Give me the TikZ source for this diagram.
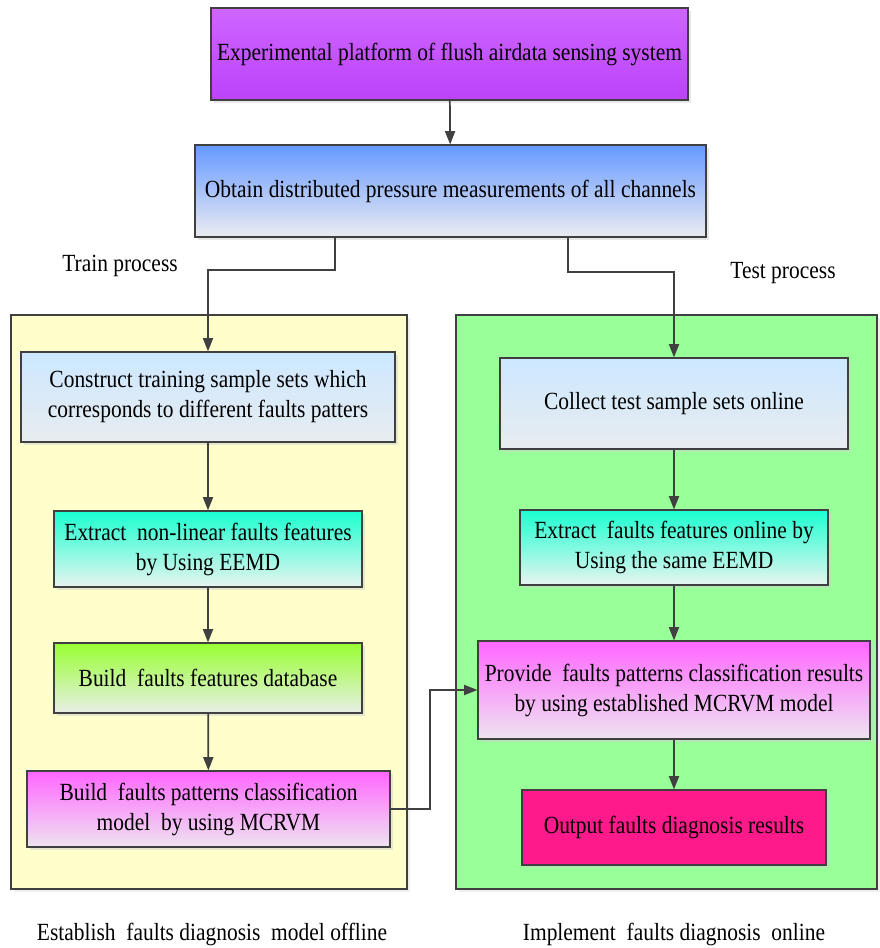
\documentclass[tikz,border=0pt]{standalone}
\usepackage{fontspec}
\setmainfont{Liberation Serif}[FakeStretch=0.87]
\usetikzlibrary{arrows.meta,shadows}
\definecolor{edge}{RGB}{64,64,64}
\definecolor{purT}{RGB}{206,102,255}
\definecolor{purB}{RGB}{188,66,250}
\definecolor{bluT}{RGB}{102,153,255}
\definecolor{bluB}{RGB}{235,236,242}
\definecolor{lbT}{RGB}{204,232,255}
\definecolor{lbB}{RGB}{232,236,240}
\definecolor{tealT}{RGB}{26,255,208}
\definecolor{tealB}{RGB}{232,244,240}
\definecolor{grnT}{RGB}{153,255,51}
\definecolor{grnB}{RGB}{232,238,230}
\definecolor{magT}{RGB}{255,102,255}
\definecolor{magB}{RGB}{238,228,240}
\definecolor{pinkF}{RGB}{255,26,140}
\definecolor{yelF}{RGB}{255,255,204}
\definecolor{grnF}{RGB}{153,255,153}
\tikzset{
  box/.style={draw=edge, line width=0.8pt, inner sep=2pt, align=center,
    drop shadow={shadow xshift=2.2pt, shadow yshift=-2.2pt, fill=black!18},
    font=\fontsize{18.5}{22.5}\selectfont},
  grad/.style 2 args={top color=#1, bottom color=#2},
  panel/.style={draw=edge, line width=0.8pt,
    drop shadow={shadow xshift=2.2pt, shadow yshift=-2.2pt, fill=black!12}},
  lbl/.style={font=\fontsize{18.5}{22.5}\selectfont, inner sep=0pt},
  arr/.style={draw=edge, line width=1.3pt, -{Triangle[length=10pt,width=7.5pt]}},
  ln/.style={draw=edge, line width=1.3pt}
}
\begin{document}
\begin{tikzpicture}[x=0.75pt,y=-0.75pt]
\useasboundingbox (0,0) rectangle (879,948);
% panels
\path[panel, fill=yelF] (11,315) rectangle (407,889);
\path[panel, fill=grnF] (456,315) rectangle (877,889);
% top boxes
\node[box, grad={purT}{purB}, minimum width=357.75pt, minimum height=69pt] (b1) at (449.5,54)
  {Experimental platform of flush airdata sensing system};
\node[box, grad={bluT}{bluB}, minimum width=383.25pt, minimum height=69pt] (b2) at (450.5,191)
  {Obtain distributed pressure measurements of all channels};
% left column
\node[box, grad={lbT}{lbB}, minimum width=280.5pt, minimum height=67.5pt] (b3) at (208,397)
  {Construct training sample sets which\\corresponds to different faults patters};
\node[box, grad={tealT}{tealB}, minimum width=231pt, minimum height=57pt] (b4) at (208,549)
  {Extract~ non-linear faults features\\by Using EEMD};
\node[box, grad={grnT}{grnB}, minimum width=231pt, minimum height=52.5pt] (b5) at (208,678)
  {Build~ faults features database};
\node[box, grad={magT}{magB}, minimum width=272.25pt, minimum height=57pt] (b6) at (208.5,809)
  {Build~ faults patterns classification\\model~ by using MCRVM};
% right column
\node[box, grad={lbT}{lbB}, minimum width=261pt, minimum height=68.25pt] (r1) at (674,403.5)
  {Collect test sample sets online};
\node[box, grad={tealT}{tealB}, minimum width=231pt, minimum height=56.25pt] (r2) at (674,547.5)
  {Extract~ faults features online by\\Using the same EEMD};
\node[box, grad={magT}{magB}, minimum width=294pt, minimum height=73.5pt] (r3) at (674,690)
  {Provide~ faults patterns classification results\\by using established MCRVM model};
\node[box, fill=pinkF, minimum width=228pt, minimum height=56.25pt] (r4) at (674,827.5)
  {Output faults diagnosis results};
% labels
\node[lbl] (ltrain) at (120,266) {Train process};
\node[lbl] (ltest) at (783,273) {Test process};
\node[lbl] (loff) at (212,934) {Establish~ faults diagnosis~ model offline};
\node[lbl] (lon) at (674,934) {Implement~ faults diagnosis~ online};
% connectors
\coordinate (t1) at (335,270);
\coordinate (t2) at (568,272);
\coordinate (k) at (430,0);
\draw[arr] (b1) -- (b2);
\draw[arr] (b2.south -| t1) -- (t1) -| (b3.north);
\draw[arr] (b2.south -| t2) -- (t2) -| (r1.north);
\draw[arr] (b3) -- (b4);
\draw[arr] (b4) -- (b5);
\draw[arr] (b5) -- (b6);
\draw[arr] (b6.east) -- (b6.east -| k) |- (r3.west);
\draw[arr] (r1) -- (r2);
\draw[arr] (r2) -- (r3);
\draw[arr] (r3) -- (r4);
\end{tikzpicture}
\end{document}
